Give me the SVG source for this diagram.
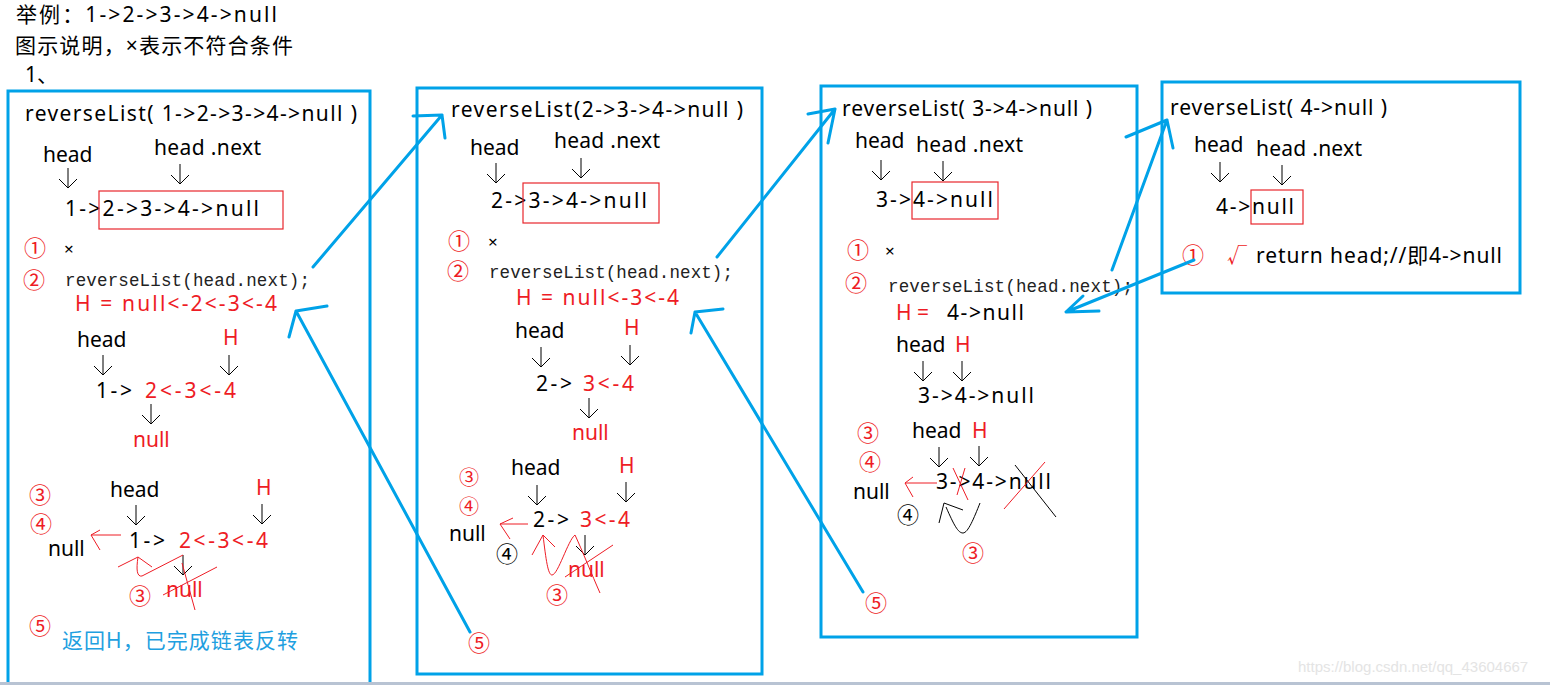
<svg xmlns="http://www.w3.org/2000/svg" xmlns:xlink="http://www.w3.org/1999/xlink" width="1550" height="685" viewBox="0 0 1550 685">
<style>
.t{font-family:"Noto Sans","Noto Sans CJK SC",sans-serif;font-size:21px;fill:#000}
.r{fill:#ee1c25}
.b{fill:#1fa0e0}
.c{font-family:"Noto Sans CJK SC",sans-serif;font-size:22px;fill:#ee1c25}
.cs{font-size:20px}
.ck{fill:#000}
.v{font-family:"Noto Sans CJK SC",sans-serif;font-size:20px;fill:#ee1c25}
.x{font-family:"Noto Sans",sans-serif;font-size:17px;fill:#000}
.m{font-family:"Liberation Mono",monospace;font-size:17.5px;fill:#222}
.box{fill:none;stroke:#00a2e8;stroke-width:3}
.rb{fill:none;stroke:#e8262c;stroke-width:1.2}
.conn{fill:none;stroke:#00a2e8;stroke-width:3;stroke-linecap:round;stroke-linejoin:round}
.rl{fill:none;stroke:#ee1c25;stroke-width:1}
.kl{fill:none;stroke:#000;stroke-width:1}
.wm{font-family:"Liberation Sans",sans-serif;font-size:15px;fill:#e4e4e4}
</style>
<defs>
<path id="darr" d="M0,0 V20 M-9,11 L0,20 L9,11" fill="none" stroke="#000" stroke-width="1"/>
</defs>
<rect width="1550" height="685" fill="#fff"/>

<g id="header">
<text class="t" x="16" y="22" textLength="261">举例：1-&gt;2-&gt;3-&gt;4-&gt;null</text>
<text class="t" x="15" y="53" textLength="278">图示说明，×表示不符合条件</text>
<text class="t" x="25" y="82">1、</text>
</g>

<g id="box1">
<rect class="box" x="8" y="91" width="362" height="620"/>
<text class="t" x="25" y="121" textLength="332">reverseList( 1-&gt;2-&gt;3-&gt;4-&gt;null )</text>
<text class="t" x="43" y="162">head</text>
<text class="t" x="154" y="155" textLength="107">head .next</text>
<use xlink:href="#darr" x="68" y="168"/>
<use xlink:href="#darr" x="180" y="164"/>
<text class="t" x="65" y="216" textLength="194">1-&gt;2-&gt;3-&gt;4-&gt;null</text>
<rect class="rb" x="99" y="191" width="184" height="38"/>
<text class="c" x="24" y="256">①</text>
<text class="x" x="64" y="255">×</text>
<text class="c" x="23" y="288">②</text>
<text class="m" x="65" y="286" textLength="245">reverseList(head.next);</text>
<text class="t r" x="75" y="311" textLength="202">H = null&lt;-2&lt;-3&lt;-4</text>
<text class="t" x="77" y="347">head</text>
<text class="t r" x="223" y="345">H</text>
<use xlink:href="#darr" x="103" y="355"/>
<use xlink:href="#darr" x="229" y="355"/>
<text class="t" x="96" y="398" textLength="36">1-&gt;</text>
<text class="t r" x="145" y="398" textLength="91">2&lt;-3&lt;-4</text>
<use xlink:href="#darr" x="151" y="404"/>
<text class="t r" x="133" y="447">null</text>
<text class="c" x="29" y="503">③</text>
<text class="t" x="110" y="497">head</text>
<text class="t r" x="256" y="495">H</text>
<text class="c" x="30" y="532">④</text>
<use xlink:href="#darr" x="136" y="505"/>
<use xlink:href="#darr" x="262" y="504"/>
<text class="t" x="48" y="556">null</text>
<path class="rl" d="M121,535 L91,535 M100,530 L91,535 L100,550"/>
<text class="t" x="129" y="548" textLength="36">1-&gt;</text>
<text class="t r" x="179" y="548" textLength="89">2&lt;-3&lt;-4</text>
<use xlink:href="#darr" x="183" y="555"/>
<text class="t r" x="166" y="597">null</text>
<path class="rl" d="M118,567 L138,557 L152,567 M138,557 C136,570 137,577 142,576 L183,555 M182,563 L195,610 M163,595 L217,567"/>
<text class="c" x="129" y="604">③</text>
<text class="c" x="29" y="634">⑤</text>
<text class="t b" x="62" y="648" textLength="236">返回H，已完成链表反转</text>
</g>

<g id="box2">
<rect class="box" x="417" y="88" width="345" height="586"/>
<text class="t" x="451" y="117" textLength="292">reverseList(2-&gt;3-&gt;4-&gt;null )</text>
<text class="t" x="470" y="155">head</text>
<text class="t" x="554" y="148" textLength="106">head .next</text>
<use xlink:href="#darr" x="496" y="163"/>
<use xlink:href="#darr" x="581" y="158"/>
<text class="t" x="491" y="208" textLength="156">2-&gt;3-&gt;4-&gt;null</text>
<rect class="rb" x="523" y="183" width="136" height="40"/>
<text class="c" x="448" y="249">①</text>
<text class="x" x="488" y="248">×</text>
<text class="c" x="447" y="279">②</text>
<text class="m" x="489" y="278" textLength="244">reverseList(head.next);</text>
<text class="t r" x="516" y="305" textLength="163">H = null&lt;-3&lt;-4</text>
<text class="t" x="515" y="338">head</text>
<text class="t r" x="624" y="335">H</text>
<use xlink:href="#darr" x="541" y="347"/>
<use xlink:href="#darr" x="630" y="345"/>
<text class="t" x="536" y="391" textLength="36">2-&gt;</text>
<text class="t r" x="583" y="391" textLength="51">3&lt;-4</text>
<use xlink:href="#darr" x="589" y="398"/>
<text class="t r" x="572" y="440">null</text>
<text class="c cs" x="459" y="485">③</text>
<text class="t" x="511" y="475">head</text>
<text class="t r" x="619" y="473">H</text>
<text class="c cs" x="459" y="514">④</text>
<use xlink:href="#darr" x="537" y="485"/>
<use xlink:href="#darr" x="626" y="482"/>
<text class="t" x="449" y="541">null</text>
<path class="rl" d="M528,524 L500,524 M513,518 L500,524 L510,539"/>
<text class="t" x="533" y="527" textLength="36">2-&gt;</text>
<text class="t r" x="580" y="527" textLength="50">3&lt;-4</text>
<text class="c ck" x="496" y="562">④</text>
<use xlink:href="#darr" x="585" y="535"/>
<text class="t r" x="568" y="577">null</text>
<path class="rl" d="M532,555 L543,535 L555,547 M543,535 C546,560 548,575 552,575 C558,575 568,540 575,535 C582,550 592,575 600,593 M565,577 L613,545"/>
<text class="c" x="546" y="603">③</text>
<text class="c" x="468" y="651">⑤</text>
</g>

<g id="box3">
<rect class="box" x="821" y="86" width="316" height="551"/>
<text class="t" x="842" y="116" textLength="250">reverseList( 3-&gt;4-&gt;null )</text>
<text class="t" x="855" y="148">head</text>
<text class="t" x="916" y="152" textLength="107">head .next</text>
<use xlink:href="#darr" x="881" y="160"/>
<use xlink:href="#darr" x="943" y="161"/>
<text class="t" x="876" y="207" textLength="117">3-&gt;4-&gt;null</text>
<rect class="rb" x="912" y="182" width="86" height="37"/>
<text class="c" x="847" y="258">①</text>
<text class="x" x="885" y="257">×</text>
<text class="c" x="845" y="291">②</text>
<text class="m" x="888" y="292" textLength="245">reverseList(head.next);</text>
<text class="t r" x="896" y="320">H =</text>
<text class="t" x="947" y="320" textLength="77">4-&gt;null</text>
<text class="t" x="896" y="352">head</text>
<text class="t r" x="955" y="352">H</text>
<use xlink:href="#darr" x="923" y="361"/>
<use xlink:href="#darr" x="962" y="361"/>
<text class="t" x="918" y="403" textLength="116">3-&gt;4-&gt;null</text>
<text class="c" x="857" y="441">③</text>
<text class="t" x="912" y="438">head</text>
<text class="t r" x="972" y="438">H</text>
<text class="c" x="859" y="470">④</text>
<use xlink:href="#darr" x="939" y="447"/>
<use xlink:href="#darr" x="979" y="446"/>
<text class="t" x="853" y="499">null</text>
<path class="rl" d="M937,483 L905,483 M913,477 L905,483 L913,497"/>
<text class="t" x="936" y="489" textLength="115">3-&gt;4-&gt;null</text>
<path class="rl" d="M953,468 L968,500 M965,468 L957,495 M1004,509 L1045,462"/>
<path class="kl" d="M1015,465 L1056,517 M939,523 L944,503 L963,510 M946,507 C954,525 958,533 963,533 C968,533 974,518 980,503"/>
<text class="c ck" x="897" y="523">④</text>
<text class="c" x="962" y="561">③</text>
<text class="c" x="865" y="611">⑤</text>
</g>

<g id="box4">
<rect class="box" x="1162" y="82" width="358" height="211"/>
<text class="t" x="1170" y="115" textLength="217">reverseList( 4-&gt;null )</text>
<text class="t" x="1194" y="152">head</text>
<text class="t" x="1256" y="156" textLength="106">head .next</text>
<use xlink:href="#darr" x="1220" y="162"/>
<use xlink:href="#darr" x="1282" y="165"/>
<text class="t" x="1216" y="214" textLength="78">4-&gt;null</text>
<rect class="rb" x="1251" y="190" width="52" height="34"/>
<text class="c" x="1182" y="263">①</text>
<text class="v" x="1227" y="263">√</text>
<text class="t" x="1256" y="263" textLength="246">return head;//即4-&gt;null</text>
</g>

<g id="connectors">
<path class="conn" d="M313,267 L442,115 M413,116 L442,115 L445,138"/>
<path class="conn" d="M717,257 L835,109 M808,114 L835,109 L828,143"/>
<path class="conn" d="M1112,270 L1167,120 M1126,137 L1167,120 L1173,148"/>
<path class="conn" d="M1194,260 L1066,312 M1083,296 L1066,312 L1099,311"/>
<path class="conn" d="M470,632 L296,311 M327,306 L296,311 L289,337"/>
<path class="conn" d="M863,592 L695,312 M723,309 L695,312 L691,333"/>
</g>

<rect x="0" y="682" width="1550" height="3" fill="#b8c3d3"/>
<text class="wm" x="1298" y="672">https://blog.csdn.net/qq_43604667</text>
</svg>
